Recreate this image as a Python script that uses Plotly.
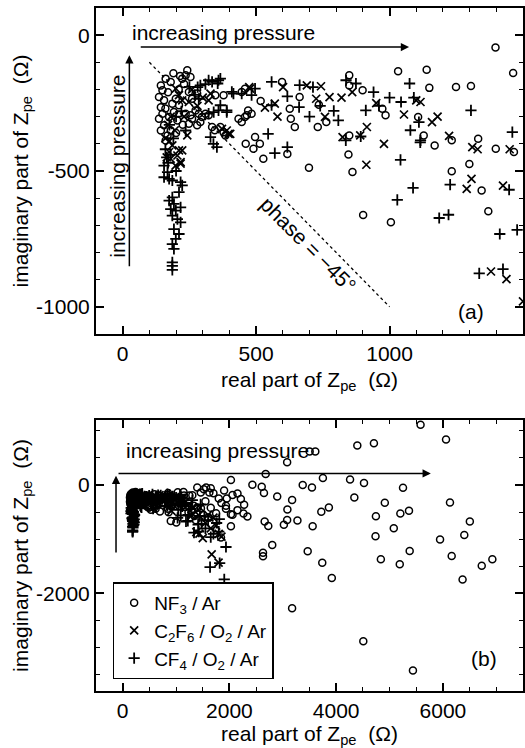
import plotly.graph_objects as go

# ---------------- data (real part, imaginary part of Z_pe, ohm) ----------------
nf3_re = [242, 236, 223, 254, 161, 180, 143, 149, 136, 155, 143, 149, 136, 155, 143, 174, 186, 199, 211, 192,
          205, 236, 254, 248, 260, 279, 291, 273, 285, 297, 248, 260, 279, 310, 322, 366, 378, 385, 347, 378,
          446, 458, 434, 458, 470, 180, 168, 161, 170, 160, 210, 225, 200, 230, 190, 215, 335, 345,
          597, 663, 735, 626, 630, 645, 731, 763, 446, 465, 483, 517, 461, 496, 490, 514, 527, 617, 698, 861,
          846, 849, 849, 849, 899, 973, 985, 901, 1005, 1032, 1139, 1149, 1249, 1305, 1107, 1128, 1169, 1233,
          1233, 1299, 1332, 1345, 1370, 1398, 1466, 1397, 1463,
          1563, 1624, 1935, 2028, 1842, 5581, 6058, 4396, 4707, 3503, 3609, 3081, 2679, 2028, 2430, 2605, 2647,
          3751, 3373, 3546, 4260, 4521, 4340, 5252, 6132, 4911, 4744, 5202, 5364, 5079, 4737, 4837, 5191, 5377,
          5946, 6400, 6504, 6164, 6368, 6727, 6926, 5438, 4508, 3174, 3918, 3739, 3466, 2802, 2629, 2629, 2660,
          2728, 3020, 3081, 3274, 3086, 3174, 2895, 3559, 3721, 3863, 2028, 2337, 2263, 2275, 2214, 2151, 2058,
          2151, 2058, 1935, 1700, 1800, 1550, 1650, 1750, 1600, 1850, 1950, 1900, 1520, 1650]
nf3_im = [-129, -148, -160, -154, -160, -172, -185, -203, -228, -240, -265, -289, -308, -332, -351, -301, -252, -234, -258, -283,
          -314, -289, -295, -326, -308, -332, -320, -277, -289, -301, -209, -234, -215, -289, -295, -338, -357, -369, -221, -221,
          -209, -197, -308, -301, -277, -351, -369, -388, -210, -270, -200, -330, -360, -180, -140, -150, -338, -350,
          -172, -228, -256, -271, -308, -338, -338, -320, -320, -295, -289, -242, -400, -375, -418, -400, -455, -437, -488, -504,
          -439, -369, -148, -185, -203, -271, -295, -662, -689, -133, -127, -194, -191, -187, -301, -369, -406, -387,
          -501, -474, -381, -572, -648, -418, -430, -45, -139,
          -44, -137, -439, -537, -970, 1111, 839, 728, 771, 617, 617, 419, 204, 93, 6, -31, -148,
          130, 0, -44, 104, 37, -230, -50, -322, -328, -574, -526, -476, -796, -944, -1370, -1463, -1217,
          -1007, -920, -674, -1309, -1741, -1489, -1370, -3420, -2883, -2272, -1717, -1433, -1222, -1106, -1248, -1315, -674,
          -754, -735, -643, -656, -452, -278, -211, -759, -494, -415, -759, -581, -526, -365, -259, -155, -185,
          -463, -550, -383, -150, -250, -300, -420, -520, -600, -330, -250, -100, -80, -60]

c2f6_re = [1116, 1054, 1159, 1223, 1310, 1330, 1307, 1289, 1425, 1438, 915, 913, 890, 979, 824, 775, 743, 725, 758, 601,
           570, 533, 397, 372, 322, 477, 211, 217, 211, 223, 199, 248, 242, 223, 217, 205, 186, 174, 180, 198,
           390, 403, 329, 474, 170, 180, 160, 175, 195, 165, 230, 280, 260, 300, 690, 580, 860, 820, 950, 1100,
           1180, 1450,
           1667, 1797, 1550, 1650, 1700, 1800, 1750, 1600, 1850, 1380, 1500]
c2f6_im = [-246, -292, -320, -371, -412, -420, -529, -566, -554, -898, -338, -477, -369, -400, -375, -228, -188, -234, -301, -191,
           -252, -267, -363, -345, -240, -197, -424, -473, -221, -240, -197, -246, -369, -424, -467, -443, -406, -430, -455, -480,
           -351, -363, -215, -191, -330, -300, -380, -390, -350, -450, -300, -260, -200, -230, -185, -300, -210, -230, -250, -240,
           -300, -420,
           -1278, -1433, -700, -800, -600, -900, -750, -550, -950, -870, -980]

cf4_re = [1075, 1043, 1091, 1305, 1460, 1078, 1116, 1041, 1088, 1029, 1186, 1227, 1448, 1413, 1478, 1336, 1425, 911, 892, 836,
          837, 874, 808, 791, 713, 663, 617, 661, 617, 570, 558, 496, 483, 446, 415, 390, 359, 322, 335, 359,
          310, 281, 285, 329, 353, 340, 558, 545, 322, 366, 356, 291, 366, 390, 341, 409, 236,
          155, 174, 186, 168, 217, 223, 211, 186, 174, 192, 180, 199, 217, 186, 205, 217, 192, 211, 199, 186,
          192, 186, 186, 186, 160, 165, 155, 170, 180, 200, 190, 175, 200, 220, 250, 270, 1110, 1115, 1000, 960,
          700, 740, 940,
          1935, 1903, 1637, 1817, 1800, 1810, 1650, 1550, 1700, 1760, 1600, 1530, 1221]
cf4_im = [-178, -246, -230, -277, -357, -350, -387, -459, -562, -606, -673, -550, -569, -732, -717, -877, -861, -277, -373, -387,
          -166, -178, -314, -279, -191, -184, -225, -265, -412, -434, -172, -197, -221, -215, -215, -283, -277, -289, -172, -166,
          -180, -191, -234, -375, -412, -400, -258, -363, -166, -160, -178, -185, -258, -277, -283, -209, -351,
          -523, -529, -535, -504, -541, -553, -578, -597, -609, -621, -640, -646, -634, -664, -677, -689, -714, -732, -750, -769,
          -787, -836, -849, -864, -420, -450, -480, -470, -440, -500, -380, -330, -300, -280, -190, -220, -320, -395, -230, -260,
          -300, -260, -210,
          -1143, -1741, -1513, -1440, -860, -630, -960, -800, -900, -700, -650, -580, -661]

series_names = ["NF<sub>3</sub> / Ar", "C<sub>2</sub>F<sub>6</sub> / O<sub>2</sub> / Ar", "CF<sub>4</sub> / O<sub>2</sub> / Ar"]

# axis ticks
xa_ticks = [0, 500, 1000]
xa_text = ["0", "500", "1000"]
ya_ticks = [-1000, -500, 0]
ya_text = ["-1000", "-500", "0"]
xb_ticks = [0, 2000, 4000, 6000]
xb_text = ["0", "2000", "4000", "6000"]
yb_ticks = [-2000, 0]
yb_text = ["-2000", "0"]

phase_line_re = [100, 1000]
phase_line_im = [-100, -1000]

FONT = "Liberation Sans, Arial, Helvetica, sans-serif"
FS = 21

fig = go.Figure()

styles = [
    dict(symbol="circle-open", size=7, line=dict(width=1.5, color="black"), color="black"),
    dict(symbol="x-thin-open", size=8, line=dict(width=1.7, color="black"), color="black"),
    dict(symbol="cross-thin-open", size=8, line=dict(width=1.8, color="black"), color="black"),
]
data = [(nf3_re, nf3_im), (c2f6_re, c2f6_im), (cf4_re, cf4_im)]

for (xs, ys), st, nm in zip(data, styles, series_names):
    fig.add_trace(go.Scatter(x=xs, y=ys, mode="markers", marker=st, name=nm,
                             showlegend=False, xaxis="x", yaxis="y"))
for (xs, ys), st, nm in zip(data, styles, series_names):
    fig.add_trace(go.Scatter(x=xs, y=ys, mode="markers", marker=st, name=nm,
                             showlegend=True, xaxis="x2", yaxis="y2"))

# phase = -45 deg line
fig.add_trace(go.Scatter(x=phase_line_re, y=phase_line_im, mode="lines",
                         line=dict(color="black", width=1.3, dash="dot"),
                         showlegend=False, xaxis="x", yaxis="y", hoverinfo="skip"))

axis_common = dict(showgrid=False, zeroline=False, showline=True, linewidth=2, linecolor="black",
                   mirror="ticks", ticks="inside", ticklen=8, tickwidth=1.5, tickcolor="black",
                   tickmode="array", tickfont=dict(family=FONT, size=FS, color="black"))

x_title = dict(text="real part of Z<sub>pe</sub>  (Ω)", font=dict(family=FONT, size=FS, color="black"), standoff=8)
y_title = dict(text="imaginary part of Z<sub>pe</sub>  (Ω)", font=dict(family=FONT, size=FS, color="black"), standoff=2)

fig.update_layout(
    width=525, height=748,
    margin=dict(l=96, r=0, t=8, b=57),
    paper_bgcolor="white", plot_bgcolor="white",
    font=dict(family=FONT, size=FS, color="black"),
    xaxis=dict(domain=[0, 1], anchor="y", range=[-100, 1500], tickvals=xa_ticks, ticktext=xa_text,
               minor=dict(tickmode="linear", tick0=0, dtick=100, ticks="inside", ticklen=4, tickwidth=1, tickcolor="black"),
               title=x_title, **axis_common),
    yaxis=dict(domain=[0.5227, 1], anchor="x", range=[-1100, 100], tickvals=ya_ticks, ticktext=ya_text,
               minor=dict(tickmode="linear", tick0=0, dtick=100, ticks="inside", ticklen=4, tickwidth=1, tickcolor="black"),
               title=y_title, **axis_common),
    xaxis2=dict(domain=[0, 1], anchor="y2", range=[-500, 7500], tickvals=xb_ticks, ticktext=xb_text,
                minor=dict(tickmode="linear", tick0=0, dtick=500, ticks="inside", ticklen=4, tickwidth=1, tickcolor="black"),
                title=x_title, **axis_common),
    yaxis2=dict(domain=[0, 0.3968], anchor="x2", range=[-3800, 1200], tickvals=yb_ticks, ticktext=yb_text,
                minor=dict(tickmode="linear", tick0=0, dtick=500, ticks="inside", ticklen=4, tickwidth=1, tickcolor="black"),
                title=y_title, **axis_common),
    legend=dict(x=0.039, y=0.088, xanchor="left", yanchor="middle", bgcolor="white",
                bordercolor="black", borderwidth=1.5, font=dict(family=FONT, size=19, color="black"),
                tracegroupgap=0, itemwidth=30, itemsizing="trace"),
    showlegend=True,
)

ann = []
txt = dict(family=FONT, size=FS, color="black")
# top panel texts
ann.append(dict(x=377, y=11, xref="x", yref="y", text="increasing pressure", showarrow=False, font=txt))
ann.append(dict(x=-20, y=-483, xref="x", yref="y", text="increasing pressure", showarrow=False, font=txt, textangle=-90))
ann.append(dict(x=695, y=-770, xref="x", yref="y", text="phase = −45°", showarrow=False, font=txt, textangle=45))
ann.append(dict(x=1307, y=-1018, xref="x", yref="y", text="(a)", showarrow=False, font=txt))
# top panel arrows
ann.append(dict(x=1073, y=-44, ax=62, ay=-44, xref="x", yref="y", axref="x", ayref="y", text="",
                showarrow=True, arrowhead=2, arrowsize=1.1, arrowwidth=1.5, arrowcolor="black"))
ann.append(dict(x=25, y=-74, ax=25, ay=-856, xref="x", yref="y", axref="x", ayref="y", text="",
                showarrow=True, arrowhead=2, arrowsize=1.1, arrowwidth=1.5, arrowcolor="black"))
# bottom panel texts
ann.append(dict(x=1778, y=635, xref="x2", yref="y2", text="increasing pressure", showarrow=False, font=txt))
ann.append(dict(x=6778, y=-3198, xref="x2", yref="y2", text="(b)", showarrow=False, font=txt))
# bottom panel arrows
ann.append(dict(x=5773, y=215, ax=-106, ay=215, xref="x2", yref="y2", axref="x2", ayref="y2", text="",
                showarrow=True, arrowhead=2, arrowsize=1.1, arrowwidth=1.5, arrowcolor="black"))
ann.append(dict(x=-125, y=172, ax=-125, ay=-1272, xref="x2", yref="y2", axref="x2", ayref="y2", text="",
                showarrow=True, arrowhead=2, arrowsize=1.1, arrowwidth=1.5, arrowcolor="black"))
fig.update_layout(annotations=ann)

fig.write_html("out.html")
